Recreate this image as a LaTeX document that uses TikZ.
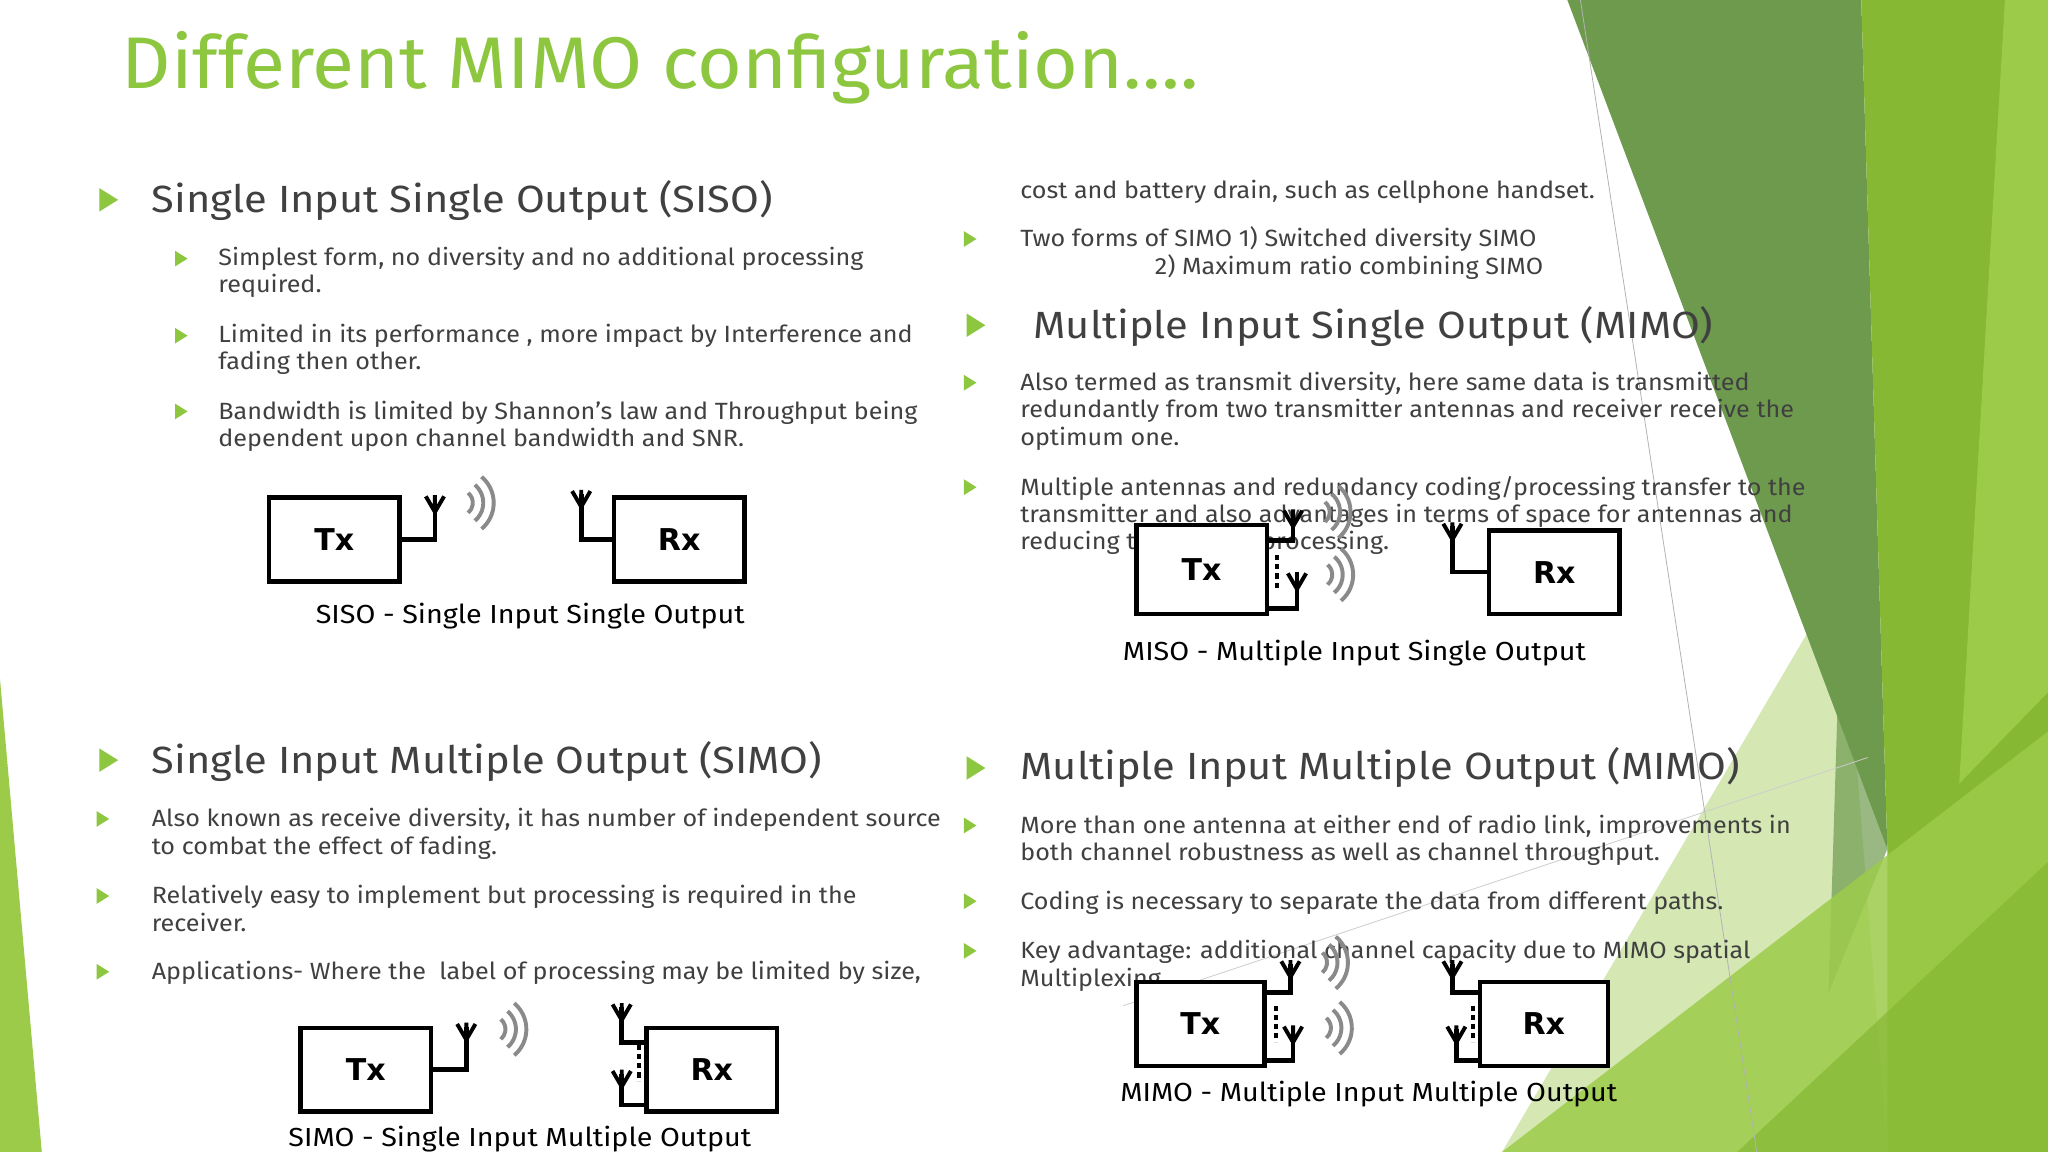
\documentclass[tikz,border=0pt]{standalone}
\usepackage{fontspec}
\setmainfont{Fira Sans}
\newfontfamily\bodyf[FakeStretch=1.07]{Fira Sans}
\newfontfamily\headf[FakeStretch=1.1]{Fira Sans}
\newfontfamily\titlef[FakeStretch=1.05]{Fira Sans}
\newfontfamily\boxf{DejaVu Sans}
\definecolor{tgreen}{HTML}{8DC63F}
\definecolor{txt}{HTML}{404040}
\definecolor{olive}{HTML}{6E9A4E}
\definecolor{bgreen}{HTML}{86B833}
\definecolor{lgreen}{HTML}{9CCB4A}
\definecolor{pale}{HTML}{D5E8B4}
\definecolor{wave}{HTML}{8A8A8A}
\tikzset{
 tl/.style={anchor=base west,inner sep=0pt,text=txt,font=\bodyf\fontsize{18}{21}\selectfont},
 hd/.style={anchor=base west,inner sep=0pt,text=txt,font=\headf\fontsize{29}{34}\selectfont},
 capt/.style={anchor=base,inner sep=0pt,text=black,font=\headf\fontsize{20}{22}\selectfont},
 boxx/.style={draw=black,line width=3.5pt,fill=white,inner sep=0pt,font=\boxf\bfseries\fontsize{23}{24}\selectfont},
 wire/.style={line width=3.5pt,black},
 wv/.style={line width=3pt,wave},
}
\newcommand{\bul}[3]{\fill[tgreen] (#1,#2-#3) -- (#1+1.6*#3,#2) -- (#1,#2+#3) -- cycle;}
\newcommand{\ant}[2]{\draw[line width=3pt] (#1-7,#2) -- (#1,#2+12) -- (#1+7,#2) (#1,#2-1) -- (#1,#2+12);}
\newcommand{\waves}[2]{\foreach \r in {10,18,26}{\draw[wv] (#1,#2) ++(-50:\r) arc[start angle=-50,end angle=50,radius=\r];}}
\begin{document}
\begin{tikzpicture}[x=1pt,y=-1pt]
\useasboundingbox (0,0) rectangle (1568,882);
\fill[white] (0,0) rectangle (1568,882);
% background facets
\fill[pale] (1150,882) -- (1410,440) -- (1445,882) -- cycle;
\fill[olive] (1200,0) -- (1425,0) -- (1445,650) -- cycle;
\fill[bgreen] (1425,0) -- (1535,0) -- (1568,0) -- (1568,882) -- (1445,882) -- (1445,650) -- cycle;
\fill[lgreen] (1535,0) -- (1568,0) -- (1568,530) -- (1500,600) -- cycle;
\fill[olive,opacity=0.7] (1410,440) -- (1445,650) -- (1400,760) -- cycle;
\fill[lgreen,opacity=0.85] (1150,882) -- (1568,560) -- (1568,882) -- cycle;
\fill[bgreen,opacity=0.7] (1330,882) -- (1568,660) -- (1568,882) -- cycle;
\fill[lgreen] (0,520) -- (32,882) -- (0,882) -- cycle;
\draw[gray!60,line width=0.6pt] (1210,0) -- (1345,882);
\draw[gray!40,line width=0.6pt] (860,770) -- (1430,580);
% title
\node[anchor=base west,inner sep=0pt,text=tgreen,font=\titlef\fontsize{56}{60}\selectfont] (title) at (93,68) {Different MIMO configuration….};
% left column
\bul{76}{153}{9}
\node[hd] (h1) at (116,163) {Single Input Single Output (SISO)};
\bul{134}{198}{6}
\node[tl] (a1) at (167,203) {Simplest form, no diversity and no additional processing};
\node[tl] (a2) at (167,224) {required.};
\bul{134}{257}{6}
\node[tl] (a3) at (167,262) {Limited in its performance , more impact by Interference and};
\node[tl] (a4) at (167,283) {fading then other.};
\bul{134}{315}{6}
\node[tl] (a5) at (167,321) {Bandwidth is limited by Shannon’s law and Throughput being};
\node[tl] (a6) at (167,342) {dependent upon channel bandwidth and SNR.};
\bul{76}{582}{9}
\node[hd] (h2) at (116,592) {Single Input Multiple Output (SIMO)};
\bul{74}{627}{6}
\node[tl] (b1) at (116,633) {Also known as receive diversity, it has number of independent source};
\node[tl] (b2) at (116,654) {to combat the effect of fading.};
\bul{74}{686}{6}
\node[tl] (b3) at (116,692) {Relatively easy to implement but processing is required in the};
\node[tl] (b4) at (116,713) {receiver.};
\bul{74}{744}{6}
\node[tl] (b5) at (116,750) {Applications- Where the \ label of processing may be limited by size,};
% right column
\node[tl] (c1) at (781,152) {cost and battery drain, such as cellphone handset.};
\bul{738}{183}{6}
\node[tl] (c2) at (781,189) {Two forms of SIMO 1) Switched diversity SIMO};
\node[tl] (c3) at (884,210) {2) Maximum ratio combining SIMO};
\bul{740}{249}{9}
\node[hd] (h3) at (791,259) {Multiple Input Single Output (MIMO)};
\bul{738}{293}{6}
\node[tl] (d1) at (781,299) {Also termed as transmit diversity, here same data is transmitted};
\node[tl] (d2) at (781,320) {redundantly from two transmitter antennas and receiver receive the};
\node[tl] (d3) at (781,341) {optimum one.};
\bul{738}{373}{6}
\node[tl] (d4) at (781,379) {Multiple antennas and redundancy coding/processing transfer to the};
\node[tl] (d5) at (781,400) {transmitter and also advantages in terms of space for antennas and};
\node[tl] (d6) at (781,421) {reducing the level of processing.};
\bul{740}{588}{9}
\node[hd] (h4) at (781,597) {Multiple Input Multiple Output (MIMO)};
\bul{738}{632}{6}
\node[tl] (e1) at (781,638) {More than one antenna at either end of radio link, improvements in};
\node[tl] (e2) at (781,659) {both channel robustness as well as channel throughput.};
\bul{738}{690}{6}
\node[tl] (e3) at (781,696) {Coding is necessary to separate the data from different paths.};
\bul{738}{728}{6}
\node[tl] (e4) at (781,734) {Key advantage: additional channel capacity due to MIMO spatial};
\node[tl] (e5) at (781,755) {Multiplexing.};
% SISO
\node[boxx,minimum width=100,minimum height=64] (stx) at (256,413) {Tx};
\node[boxx,minimum width=100,minimum height=64] (srx) at (520,413) {Rx};
\coordinate (sa1) at (333,382);
\coordinate (sa2) at (445,378);
\draw[wire] (stx.east) -| (sa1);
\draw[wire] (srx.west) -| (sa2);
\ant{333}{380}\ant{445}{376}
\waves{352}{385}
\node[capt] (scap) at (406,477) {SISO - Single Input Single Output};
% MISO
\node[boxx,minimum width=100,minimum height=68] (mtx) at (920,436) {Tx};
\node[boxx,minimum width=100,minimum height=64] (mrx) at (1190,438) {Rx};
\coordinate (ma1) at (990,393);
\coordinate (ma2) at (993,441);
\coordinate (ma3) at (1112,403);
\draw[wire] (mtx.east|-0,414) -| (ma1);
\draw[wire] (mtx.east|-0,466) -| (ma2);
\draw[wire] (mrx.west) -| (ma3);
\draw[line width=3pt,dash pattern=on 4pt off 3pt] (978,425) -- (978,452);
\ant{990}{391}\ant{993}{439}\ant{1112}{401}
\waves{1008}{392}\waves{1010}{440}
\node[capt] (mcap) at (1037,506) {MISO - Multiple Input Single Output};
% SIMO
\node[boxx,minimum width=100,minimum height=64] (itx) at (280,819) {Tx};
\node[boxx,minimum width=100,minimum height=64] (irx) at (545,819) {Rx};
\coordinate (ia1) at (357,786);
\coordinate (ia2) at (476,771);
\coordinate (ia3) at (476,822);
\draw[wire] (itx.east) -| (ia1);
\draw[wire] (irx.west|-0,798) -| (ia2);
\draw[wire] (irx.west|-0,846) -| (ia3);
\draw[line width=3pt,dash pattern=on 4pt off 3pt] (489,800) -- (489,828);
\ant{357}{784}\ant{476}{769}\ant{476}{820}
\waves{377}{788}
\node[capt] (icap) at (398,878) {SIMO - Single Input Multiple Output};
% MIMO
\node[boxx,minimum width=98,minimum height=64] (xtx) at (919,784) {Tx};
\node[boxx,minimum width=98,minimum height=64] (xrx) at (1182,784) {Rx};
\coordinate (xa1) at (988,738);
\coordinate (xa2) at (990,788);
\coordinate (xa3) at (1112,738);
\coordinate (xa4) at (1115,788);
\draw[wire] (xtx.east|-0,760) -| (xa1);
\draw[wire] (xtx.east|-0,812) -| (xa2);
\draw[wire] (xrx.west|-0,760) -| (xa3);
\draw[wire] (xrx.west|-0,812) -| (xa4);
\draw[line width=3pt,dash pattern=on 4pt off 3pt] (977,770) -- (977,798);
\draw[line width=3pt,dash pattern=on 4pt off 3pt] (1128,770) -- (1128,798);
\ant{988}{736}\ant{990}{786}\ant{1112}{736}\ant{1115}{786}
\waves{1006}{737}\waves{1009}{787}
\node[capt] (xcap) at (1048,843) {MIMO - Multiple Input Multiple Output};
\end{tikzpicture}
\end{document}
